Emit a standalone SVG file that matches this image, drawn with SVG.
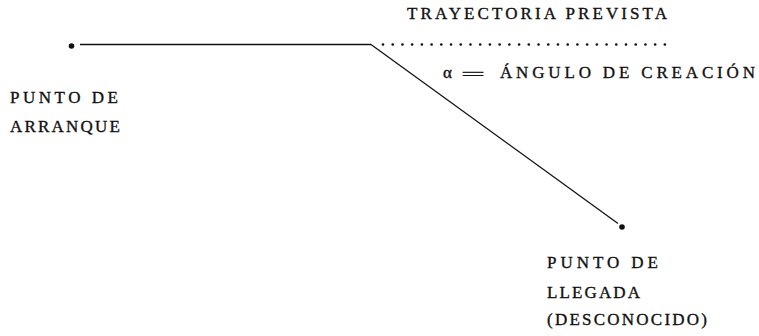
<svg xmlns="http://www.w3.org/2000/svg" width="759" height="336" viewBox="0 0 759 336">
<style>
.t{font-family:"Liberation Serif","Times New Roman",serif;font-size:17px;fill:#111;stroke:#111;stroke-width:0.35;}
.ln{stroke:#111;stroke-width:1.3;fill:none;}
.dot{fill:#111;}
</style>
<rect width="759" height="336" fill="#fff"/>
<g id="connectors">
<line class="ln" x1="80" y1="44.5" x2="371" y2="44.5"/>
<line class="ln" x1="371" y1="44.5" x2="618" y2="223.5" stroke-width="1.1"/>
<line x1="383" y1="44.5" x2="666" y2="44.5" stroke="#111" stroke-width="2.7" stroke-linecap="round" stroke-dasharray="0 9.72"/>
</g>
<g id="start">
<circle class="dot" cx="71.5" cy="46" r="2.8"/>
<text class="t" x="10" y="103" textLength="108" lengthAdjust="spacing">PUNTO DE</text>
<text class="t" x="10" y="132" textLength="110" lengthAdjust="spacing">ARRANQUE</text>
</g>
<g id="planned">
<text class="t" x="407" y="19" textLength="260" lengthAdjust="spacing">TRAYECTORIA PREVISTA</text>
</g>
<g id="angle">
<text class="t" x="443" y="78" font-size="22">α</text>
<text class="t" x="461" y="80" textLength="24" lengthAdjust="spacingAndGlyphs" font-size="20">=</text>
<text class="t" x="500" y="78" textLength="255" lengthAdjust="spacing">ÁNGULO DE CREACIÓN</text>
</g>
<g id="end">
<circle class="dot" cx="622" cy="227" r="2.8"/>
<text class="t" x="547" y="268" textLength="111" lengthAdjust="spacing">PUNTO DE</text>
<text class="t" x="547" y="298" textLength="93" lengthAdjust="spacing">LLEGADA</text>
<text class="t" x="547" y="325" textLength="160" lengthAdjust="spacing">(DESCONOCIDO)</text>
</g>
</svg>
